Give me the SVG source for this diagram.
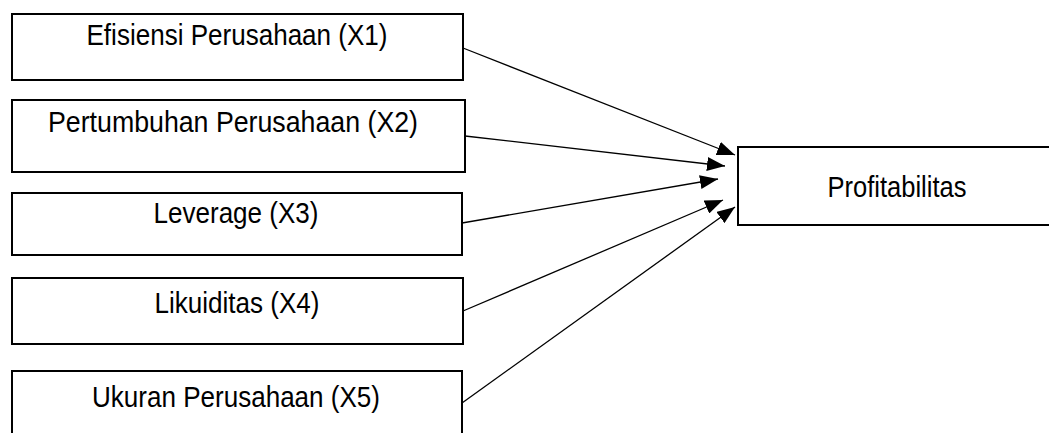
<svg xmlns="http://www.w3.org/2000/svg" width="1049" height="433" viewBox="0 0 1049 433">
<defs>
<style>
.box{fill:#fff;stroke:#000;stroke-width:2}
.lbl{font-family:"Liberation Sans",Arial,sans-serif;font-size:29px;fill:#000;text-anchor:middle}
.con{stroke:#000;stroke-width:1.3;fill:none}
</style>
<marker id="ah" markerWidth="18" markerHeight="14" refX="18" refY="7" orient="auto" markerUnits="userSpaceOnUse">
<path d="M0,0 L18,7 L0,14 Z" fill="#000"/>
</marker>
</defs>
<rect width="1049" height="433" fill="#fff"/>
<g id="n1"><rect class="box" x="12" y="14" width="451" height="66"/><text class="lbl" x="237" y="45" textLength="301" lengthAdjust="spacingAndGlyphs">Efisiensi Perusahaan (X1)</text></g>
<g id="n2"><rect class="box" x="12" y="100" width="453" height="72"/><text class="lbl" x="233" y="132" textLength="370" lengthAdjust="spacingAndGlyphs">Pertumbuhan Perusahaan (X2)</text></g>
<g id="n3"><rect class="box" x="12" y="193" width="450" height="62"/><text class="lbl" x="236" y="223" textLength="165" lengthAdjust="spacingAndGlyphs">Leverage (X3)</text></g>
<g id="n4"><rect class="box" x="12" y="278" width="451" height="66"/><text class="lbl" x="237" y="313" textLength="165" lengthAdjust="spacingAndGlyphs">Likuiditas (X4)</text></g>
<g id="n5"><rect class="box" x="12" y="371" width="450" height="80"/><text class="lbl" x="236" y="407" textLength="288" lengthAdjust="spacingAndGlyphs">Ukuran Perusahaan (X5)</text></g>
<g id="n6"><rect class="box" x="738" y="147" width="330" height="78"/><text class="lbl" x="897" y="197" textLength="139" lengthAdjust="spacingAndGlyphs">Profitabilitas</text></g>
<g id="connectors">
<line class="con" x1="463" y1="48" x2="735" y2="155" marker-end="url(#ah)"/>
<line class="con" x1="465" y1="136" x2="725" y2="166" marker-end="url(#ah)"/>
<line class="con" x1="462" y1="223" x2="718" y2="179" marker-end="url(#ah)"/>
<line class="con" x1="463" y1="311" x2="723" y2="200" marker-end="url(#ah)"/>
<line class="con" x1="462" y1="403" x2="735" y2="207" marker-end="url(#ah)"/>
</g>
</svg>
